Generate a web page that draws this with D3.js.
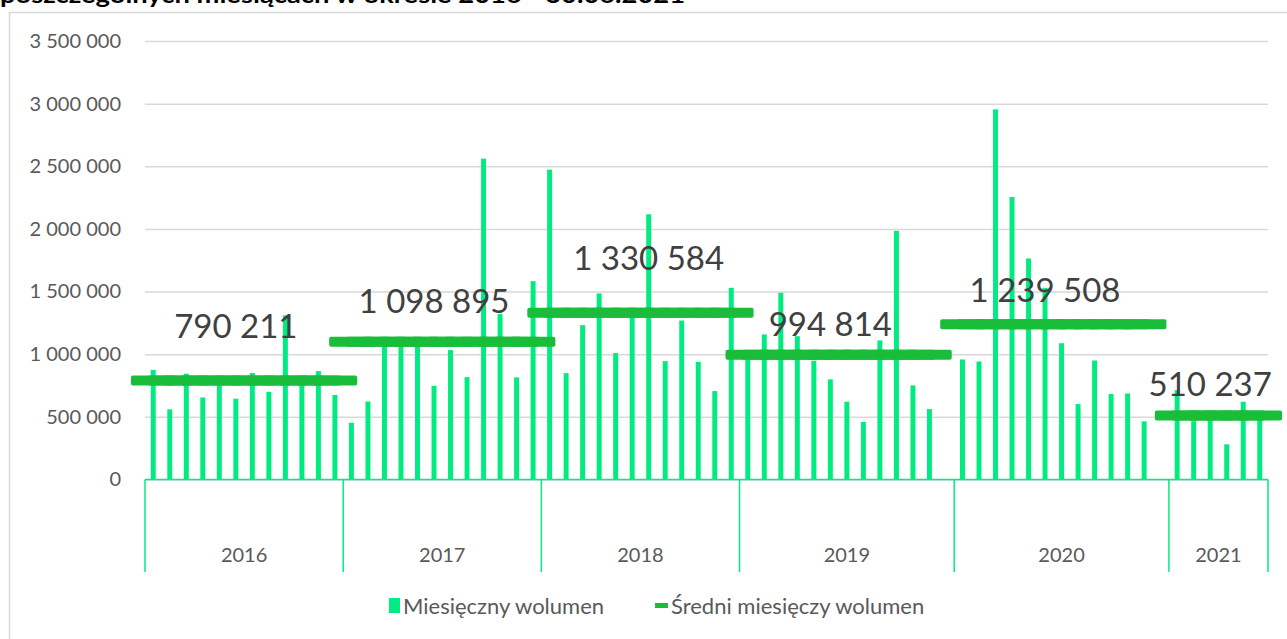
<!DOCTYPE html>
<html>
<head>
<meta charset="utf-8">
<script src="https://cdn.jsdelivr.net/npm/d3@7"></script>
<style>
  body { margin: 0; background: #fff; }
  svg { display: block; font-family: Lato, "Open Sans", sans-serif; }
</style>
</head>
<body>
<div id="chart"></div>
<script>
// years on the lower axis level
const years = ["2016", "2017", "2018", "2019", "2020", "2021"];

// monthly volume per year (null = empty slot in the source sheet)
const vol2016 = [875000, 560000, 845000, 655000, 790000, 645000, 850000, 700000, 1310000, 785000, 865000, 675000];
const vol2017 = [453000, 623000, 1080000, 1085000, 1075000, 748000, 1033000, 817000, 2561000, 1320000, 815000, 1583000];
const vol2018 = [2473000, 849000, 1232000, 1485000, 1009000, 1340000, 2117000, 945000, 1269000, 939000, 706000, 1530000];
const vol2019 = [980000, 1158000, 1490000, 1144000, 948000, 799000, 621000, 459000, 1110000, 1985000, 751000, 562000, null];
const vol2020 = [958000, 942000, 2954000, 2255000, 1764000, 1530000, 1088000, 602000, 950000, 682000, 687000, 464000, null];
const vol2021 = [714000, 466000, 480000, 281000, 621000, 499000];

// yearly average monthly volume
const averages = [790211, 1098895, 1330584, 994814, 1239508, 510237];

const yTicks = [0, 500000, 1000000, 1500000, 2000000, 2500000, 3000000, 3500000];

const legendNames = ["Miesięczny wolumen", "Średni miesięczy wolumen"];
const titleText = "poszczególnych miesiącach w okresie 2016 - 30.06.2021";

const volumes = [vol2016, vol2017, vol2018, vol2019, vol2020, vol2021];

// layout of the average labels (which month they sit on, gap above the line)
const labelMonth = [5, 5, 6, 5, 5, 2];
const labelGap = [42, 29, 43, 19, 22, 20];

const W = 1287, H = 639;
const barColor = "#00eb80";
const avgColor = "#1abd3a";
const gridColor = "#d9d9d9";
const textColor = "#595959";

const pl = d3.formatLocale({ decimal: ",", thousands: " ", grouping: [3], currency: ["", ""] });
const fmt = pl.format(",");

// flatten into one category list
const rows = [];
volumes.forEach((arr, yi) => {
  arr.forEach((v, mi) => rows.push({ key: years[yi] + "-" + mi, year: years[yi], yi, mi, value: v }));
});

const svg = d3.select("#chart").append("svg")
  .attr("width", W)
  .attr("height", H);

// chart border
svg.append("rect")
  .attr("x", 9.5).attr("y", 12.5)
  .attr("width", W + 20).attr("height", H + 20)
  .attr("fill", "none")
  .attr("stroke", gridColor)
  .attr("stroke-width", 1.5);

// title, mostly cut off at the top
svg.append("text")
  .attr("x", 0).attr("y", 3)
  .attr("font-weight", "bold")
  .attr("font-size", 23)
  .attr("fill", "#000")
  .attr("textLength", 685)
  .attr("lengthAdjust", "spacingAndGlyphs")
  .text(titleText);

const x = d3.scaleBand()
  .domain(rows.map(d => d.key))
  .range([145, 1268])
  .padding(0);

const y = d3.scaleLinear()
  .domain([0, 3500000])
  .range([479.5, 41]);

// gridlines + tick labels
const yAxis = d3.axisLeft(y).tickValues(yTicks).tickFormat(fmt).tickSize(-(1268 - 145)).tickPadding(24);
const gy = svg.append("g").attr("transform", "translate(145,0)").call(yAxis);
gy.select(".domain").remove();
gy.selectAll(".tick line").attr("stroke", gridColor).attr("stroke-width", 1.5);
gy.selectAll(".tick text")
  .attr("fill", textColor)
  .attr("font-size", 20)
  .attr("font-family", "Lato, sans-serif");

// monthly bars
const bw = x.bandwidth() * 0.3;
svg.append("g").selectAll("rect")
  .data(rows.filter(d => d.value != null))
  .join("rect")
  .attr("x", d => x(d.key) + (x.bandwidth() - bw) / 2)
  .attr("y", d => y(d.value))
  .attr("width", bw)
  .attr("height", d => y(0) - y(d.value))
  .attr("fill", barColor);

// average: wide dash markers at every month, they merge into one thick bar
const dashW = x.bandwidth() * 2.7;
svg.append("g").selectAll("rect")
  .data(rows.filter(d => d.value != null))
  .join("rect")
  .attr("x", d => x(d.key) + x.bandwidth() / 2 - dashW / 2)
  .attr("y", d => y(averages[d.yi]) - 5)
  .attr("width", dashW)
  .attr("height", 10)
  .attr("rx", 2)
  .attr("fill", avgColor);

// average labels
svg.append("g").selectAll("text")
  .data(averages)
  .join("text")
  .attr("x", (d, i) => x(years[i] + "-" + labelMonth[i]) + x.bandwidth() / 2)
  .attr("y", (d, i) => y(d) - labelGap[i])
  .attr("text-anchor", "middle")
  .attr("font-size", 33)
  .attr("fill", "#404040")
  .text(d => fmt(d));

// category axis: baseline + year separators
svg.append("line")
  .attr("x1", 145).attr("x2", 1268)
  .attr("y1", y(0)).attr("y2", y(0))
  .attr("stroke", barColor).attr("stroke-width", 1.5);

const yearSpans = years.map((yr, i) => {
  const ks = rows.filter(d => d.yi === i);
  const a = x(ks[0].key);
  const b = x(ks[ks.length - 1].key) + x.bandwidth();
  return { yr, a, b };
});

const seps = [yearSpans[0].a].concat(yearSpans.map(s => s.b));
svg.append("g").selectAll("line")
  .data(seps)
  .join("line")
  .attr("x1", d => d).attr("x2", d => d)
  .attr("y1", y(0)).attr("y2", 572)
  .attr("stroke", barColor).attr("stroke-width", 1.5);

svg.append("g").selectAll("text")
  .data(yearSpans)
  .join("text")
  .attr("x", d => (d.a + d.b) / 2)
  .attr("y", 562)
  .attr("text-anchor", "middle")
  .attr("font-size", 20)
  .attr("fill", textColor)
  .text(d => d.yr);

// legend
const lg = svg.append("g").attr("font-size", 22).attr("fill", textColor);
lg.append("rect").attr("x", 389).attr("y", 598).attr("width", 11).attr("height", 15).attr("fill", barColor);
lg.append("text").attr("x", 403).attr("y", 614).text(legendNames[0]);
lg.append("rect").attr("x", 655).attr("y", 603).attr("width", 13).attr("height", 5).attr("fill", avgColor);
lg.append("text").attr("x", 671).attr("y", 614).text(legendNames[1]);
</script>
</body>
</html>
